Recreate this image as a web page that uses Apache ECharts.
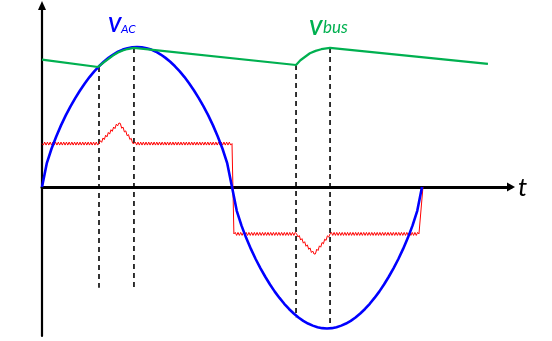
<!DOCTYPE html>
<html><head><meta charset="utf-8">
<script src="https://cdn.jsdelivr.net/npm/echarts@6/dist/echarts.min.js"></script>
<style>html,body{margin:0;padding:0;background:#fff}#c{width:552px;height:341px}</style>
</head><body><div id="c"></div>
<script>
// time in ms, voltage/current normalised to the AC peak
const vacT = [0,0.25,0.5,0.75,1,1.25,1.5,1.75,2,2.25,2.5,2.75,3,3.25,3.5,3.75,4,4.25,4.5,4.75,5,
              5.25,5.5,5.75,6,6.25,6.5,6.75,7,7.25,7.5,7.75,8,8.25,8.5,8.75,9,9.25,9.5,9.75,10,
              10.25,10.5,10.75,11,11.25,11.5,11.75,12,12.25,12.5,12.75,13,13.25,13.5,13.75,14,14.25,14.5,14.75,15,
              15.25,15.5,15.75,16,16.25,16.5,16.75,17,17.25,17.5,17.75,18,18.25,18.5,18.75,19,19.25,19.5,19.75,20];
const vacV = [0,0.168,0.273,0.361,0.440,0.511,0.575,0.635,0.689,0.739,0.785,0.826,0.862,0.894,0.922,0.946,0.966,0.981,0.991,0.998,1.0,
              0.998,0.991,0.981,0.966,0.946,0.922,0.894,0.862,0.826,0.785,0.739,0.689,0.635,0.575,0.511,0.440,0.361,0.273,0.168,0,
              -0.170,-0.276,-0.365,-0.444,-0.516,-0.581,-0.641,-0.696,-0.747,-0.792,-0.834,-0.871,-0.903,-0.932,-0.956,-0.975,-0.990,-1.001,-1.008,-1.01,
              -1.008,-1.001,-0.990,-0.975,-0.956,-0.932,-0.903,-0.871,-0.834,-0.792,-0.747,-0.696,-0.641,-0.581,-0.516,-0.444,-0.365,-0.276,-0.170,0];
const busT = [0,2.95,3.25,3.5,3.75,4.0,4.25,4.5,4.84,13.37,13.6,13.85,14.1,14.4,14.7,15.16,23.47];
const busV = [0.91,0.857,0.89,0.915,0.94,0.96,0.975,0.985,0.993,0.871,0.905,0.93,0.955,0.972,0.984,0.993,0.879];
const iT = [0,3.0,4.05,4.84,10.0,10.1,13.4,14.32,15.16,19.84,20.05];
const iV = [0.31,0.31,0.457,0.31,0.31,-0.335,-0.335,-0.479,-0.335,-0.335,0];
const dashT = [3.0,4.84,13.37,15.16];
const dashTop = [0.857,0.993,0.871,0.993];
const dashBottom = [-0.72,-0.714,-0.93,-1.01];

const chart = echarts.init(document.getElementById('c'), null, {renderer:'canvas'});

function rippleLine(params, api){
  const pts = iT.map((t,i)=>api.coord([t,iV[i]]));
  const out=[pts[0]];
  const pitch=1.35, amp=1.5;
  let k=0;
  for(let i=1;i<pts.length;i++){
    const [x0,y0]=pts[i-1],[x1,y1]=pts[i];
    const dx=x1-x0;
    if(Math.abs(dx)<6){out.push([x1,y1]);continue;}
    const n=Math.max(1,Math.round(Math.abs(dx)/pitch));
    for(let j=1;j<n;j++){
      const f=j/n;k++;
      out.push([x0+dx*f,y0+(y1-y0)*f+(k%2?amp:-amp)]);
    }
    out.push([x1,y1]);
  }
  return {type:'polyline',shape:{points:out},style:{stroke:'#ff0000',lineWidth:1,fill:null}};
}

const dashSeries = dashT.map((t,i)=>({
  type:'line', data:[[t,dashTop[i]],[t,dashBottom[i]]], symbol:'none', silent:true,
  lineStyle:{color:'#000',width:1.6,type:[5,4]}, z:1
}));

chart.setOption({
  animation:false,
  grid:{left:42,right:41,top:5.5,bottom:5,containLabel:false},
  xAxis:{type:'value',min:0,max:24.684,
    axisLine:{show:true,onZero:true,lineStyle:{color:'#000',width:3},symbol:['none','triangle'],symbolSize:[9,8]},
    axisTick:{show:false},axisLabel:{show:false},splitLine:{show:false}},
  yAxis:{type:'value',min:-1.064,max:1.296,
    axisLine:{show:true,onZero:true,lineStyle:{color:'#000',width:2.2},symbol:['none','triangle'],symbolSize:[8,9]},
    axisTick:{show:false},axisLabel:{show:false},splitLine:{show:false}},
  series:[
    ...dashSeries,
    {type:'custom',coordinateSystem:'cartesian2d',data:[[0,0]],renderItem:rippleLine,z:2,silent:true},
    {type:'line',data:vacT.map((t,i)=>[t,vacV[i]]),symbol:'none',smooth:false,
      lineStyle:{color:'#0000ff',width:2.6,join:'round'},z:3},
    {type:'line',data:busT.map((t,i)=>[t,busV[i]]),symbol:'none',smooth:false,
      lineStyle:{color:'#00b050',width:2.2,join:'round'},z:4}
  ],
  graphic:[
    {type:'text',left:108,top:16,style:{text:'V',font:'italic bold 20px Lato',fill:'#0000ff'}},
    {type:'text',left:121,top:23,style:{text:'AC',font:'italic 12px Lato',fill:'#0000ff'}},
    {type:'text',left:309,top:19,style:{text:'V',font:'italic bold 20px Lato',fill:'#00b050'}},
    {type:'text',left:323,top:19,style:{text:'bus',font:'italic 17px Lato',fill:'#00b050'}},
    {type:'text',left:518,top:175,style:{text:'t',font:'italic 26px Lato',fill:'#000'}}
  ]
});
</script></body></html>
